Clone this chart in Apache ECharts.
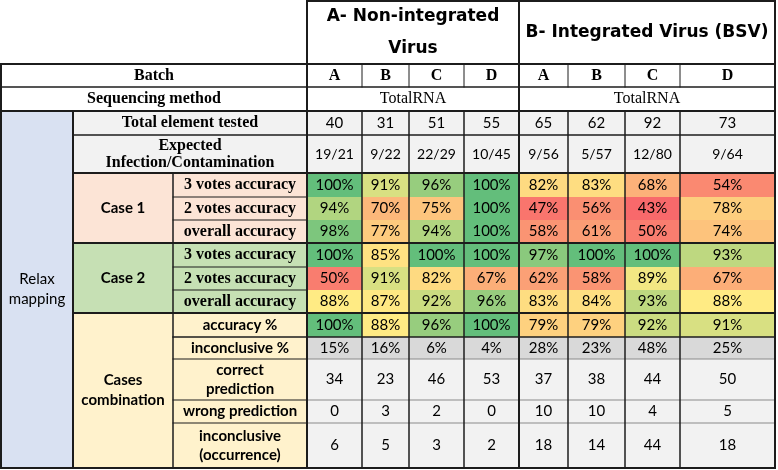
<!DOCTYPE html>
<html><head><meta charset="utf-8">
<script src="https://cdn.jsdelivr.net/npm/echarts@6/dist/echarts.min.js"></script>
<style>html,body{margin:0;padding:0;background:#fff}#c{width:778px;height:470px}</style>
</head><body><div id="c"></div><script>
// ---------------- DATA ----------------
const groupTitles = ['A- Non-integrated\nVirus', 'B- Integrated Virus (BSV)'];
const batches = ['A', 'B', 'C', 'D', 'A', 'B', 'C', 'D'];
const seqMethods = ['TotalRNA', 'TotalRNA'];
const sideLabel = 'Relax\nmapping';
const totalTested = [40, 31, 51, 55, 65, 62, 92, 73];
const expectedInfection = ['19/21', '9/22', '22/29', '10/45', '9/56', '5/57', '12/80', '9/64'];
const caseLabels = ['Case 1', 'Case 2', 'Cases\ncombination'];
const voteMetrics = ['3 votes accuracy', '2 votes accuracy', 'overall accuracy'];
const case1_3votes = [100, 91, 96, 100, 82, 83, 68, 54];
const case1_2votes = [94, 70, 75, 100, 47, 56, 43, 78];
const case1_overall = [98, 77, 94, 100, 58, 61, 50, 74];
const case2_3votes = [100, 85, 100, 100, 97, 100, 100, 93];
const case2_2votes = [50, 91, 82, 67, 62, 58, 89, 67];
const case2_overall = [88, 87, 92, 96, 83, 84, 93, 88];
const combMetrics = ['accuracy %', 'inconclusive %', 'correct\nprediction', 'wrong prediction', 'inconclusive\n(occurrence)'];
const combAccuracy = [100, 88, 96, 100, 79, 79, 92, 91];
const combInconclusivePct = [15, 16, 6, 4, 28, 23, 48, 25];
const correctPrediction = [34, 23, 46, 53, 37, 38, 44, 50];
const wrongPrediction = [0, 3, 2, 0, 10, 10, 4, 5];
const inconclusiveOccurrence = [6, 5, 3, 2, 18, 14, 44, 18];

// ---------------- LAYOUT ----------------
const colEdges = [1, 73, 173, 307, 362, 409, 464, 519, 568, 625, 680, 775];
const rowEdges = [1, 64, 87, 111, 135, 173, 197, 220, 243, 267, 290, 313, 337, 359, 400, 423, 468];
const F_SERIF = '"Liberation Serif", "Times New Roman", serif';
const F_SANS = 'Lato, "Open Sans", sans-serif';
const F_HEAD = '"DejaVu Sans", Verdana, sans-serif';
const C_SIDE = '#D9E1F2', C_CASE1 = '#FCE4D6', C_CASE2 = '#C6E0B4', C_COMB = '#FFF2CC', C_GRAY = '#F2F2F2', C_GRAY2 = '#D9D9D9';

// Excel-like 3 colour scale (min red, median yellow, max green)
const heatVals = [].concat(case1_3votes, case1_2votes, case1_overall, case2_3votes, case2_2votes, case2_overall, combAccuracy).sort((a, b) => a - b);
const hMin = heatVals[0], hMax = heatVals[heatVals.length - 1];
const hMid = (heatVals[heatVals.length / 2 - 1] + heatVals[heatVals.length / 2]) / 2;
function mix(a, b, t) {
  const r = Math.round(a[0] + (b[0] - a[0]) * t), g = Math.round(a[1] + (b[1] - a[1]) * t), bl = Math.round(a[2] + (b[2] - a[2]) * t);
  return 'rgb(' + r + ',' + g + ',' + bl + ')';
}
function heat(v) {
  const R = [248, 105, 107], Y = [255, 235, 132], G = [99, 190, 123];
  if (v <= hMid) return mix(R, Y, (v - hMin) / (hMid - hMin));
  return mix(Y, G, (v - hMid) / (hMax - hMid));
}

// ---------------- CELLS ----------------
const cells = [];
function add(c0, r0, c1, r1, text, opt) { cells.push(Object.assign({ c0, r0, c1, r1, text: String(text) }, opt || {})); }
const serifB = { family: F_SERIF, weight: 'bold', size: 16 };
const sansB = { family: F_SANS, weight: 'bold', size: 15 };
const sansN = { family: F_SANS, weight: 'normal', size: 15 };
const sansS = { family: F_SANS, weight: 'normal', size: 14 };

add(3, 0, 7, 1, groupTitles[0], { family: F_HEAD, weight: 'bold', size: 17, lh: 32 });
add(7, 0, 11, 1, groupTitles[1], { family: F_HEAD, weight: 'bold', size: 17, lh: 32 });
add(0, 1, 3, 2, 'Batch', serifB);
batches.forEach((b, i) => add(3 + i, 1, 4 + i, 2, b, serifB));
add(0, 2, 3, 3, 'Sequencing method', serifB);
add(3, 2, 7, 3, seqMethods[0], { family: F_SERIF, weight: 'normal', size: 16 });
add(7, 2, 11, 3, seqMethods[1], { family: F_SERIF, weight: 'normal', size: 16 });
add(0, 3, 1, 16, sideLabel, Object.assign({ fill: C_SIDE, lh: 20 }, sansN, { size: 15 }));
add(1, 3, 3, 4, 'Total element tested', Object.assign({ fill: C_GRAY }, serifB));
totalTested.forEach((v, i) => add(3 + i, 3, 4 + i, 4, v, Object.assign({ fill: C_GRAY }, sansN)));
add(1, 4, 3, 5, 'Expected\nInfection/Contamination', Object.assign({ fill: C_GRAY, lh: 17 }, serifB));
expectedInfection.forEach((v, i) => add(3 + i, 4, 4 + i, 5, v, Object.assign({ fill: C_GRAY }, sansS)));

const case1 = [case1_3votes, case1_2votes, case1_overall];
const case2 = [case2_3votes, case2_2votes, case2_overall];
add(1, 5, 2, 8, caseLabels[0], Object.assign({ fill: C_CASE1 }, sansB));
add(1, 8, 2, 11, caseLabels[1], Object.assign({ fill: C_CASE2 }, sansB));
case1.forEach((arr, k) => {
  add(2, 5 + k, 3, 6 + k, voteMetrics[k], Object.assign({ fill: C_CASE1 }, serifB));
  arr.forEach((v, i) => add(3 + i, 5 + k, 4 + i, 6 + k, v + '%', Object.assign({ fill: heat(v) }, sansN)));
});
case2.forEach((arr, k) => {
  add(2, 8 + k, 3, 9 + k, voteMetrics[k], Object.assign({ fill: C_CASE2 }, serifB));
  arr.forEach((v, i) => add(3 + i, 8 + k, 4 + i, 9 + k, v + '%', Object.assign({ fill: heat(v) }, sansN)));
});
add(1, 11, 2, 16, caseLabels[2], Object.assign({ fill: C_COMB, lh: 20 }, sansB));
combMetrics.forEach((m, k) => add(2, 11 + k, 3, 12 + k, m, Object.assign({ fill: C_COMB, lh: 19 }, sansB)));
combAccuracy.forEach((v, i) => add(3 + i, 11, 4 + i, 12, v + '%', Object.assign({ fill: heat(v) }, sansN)));
combInconclusivePct.forEach((v, i) => add(3 + i, 12, 4 + i, 13, v + '%', Object.assign({ fill: C_GRAY2 }, sansN)));
[correctPrediction, wrongPrediction, inconclusiveOccurrence].forEach((arr, k) =>
  arr.forEach((v, i) => add(3 + i, 13 + k, 4 + i, 14 + k, v, Object.assign({ fill: C_GRAY }, sansN))));

// ---------------- RULES (borders) ----------------
const DARK = '#1c1c1c';
const lines = [];
function hl(r, c0, c1, w, col) { lines.push({ x0: colEdges[c0], y0: rowEdges[r], x1: colEdges[c1], y1: rowEdges[r], w, col: col || DARK }); }
function vl(c, r0, r1, w, col) { lines.push({ x0: colEdges[c], y0: rowEdges[r0], x1: colEdges[c], y1: rowEdges[r1], w, col: col || DARK }); }
hl(0, 3, 11, 2); hl(1, 0, 11, 2); hl(2, 0, 11, 1.5); hl(3, 0, 11, 2);
hl(4, 1, 11, 1.5); hl(5, 1, 11, 2);
[6, 7, 9, 10].forEach(r => hl(r, 2, 3, 1));
hl(8, 1, 11, 2); hl(11, 1, 11, 2); hl(12, 2, 11, 1.5);
[13, 14, 15].forEach(r => { hl(r, 2, 3, 1); hl(r, 3, 11, 1, '#8a8a8a'); });
hl(16, 0, 11, 2);
vl(0, 1, 16, 2); vl(1, 3, 16, 2); vl(2, 5, 16, 1.5);
vl(3, 0, 16, 2); vl(7, 0, 16, 2); vl(11, 0, 16, 2);
[4, 5, 6, 8, 9, 10].forEach(c => { vl(c, 1, 2, 1); vl(c, 3, 16, 1.5); });

// ---------------- CHART ----------------
const chart = echarts.init(document.getElementById('c'), null, { renderer: 'canvas' });
chart.setOption({
  animation: false,
  backgroundColor: '#ffffff',
  grid: { left: 0, right: 0, top: 0, bottom: 0, containLabel: false },
  xAxis: { type: 'value', min: 0, max: 778, show: false },
  yAxis: { type: 'value', min: 0, max: 470, inverse: true, show: false },
  series: [
    {
      type: 'custom', clip: false,
      data: cells.map(c => [colEdges[c.c0], rowEdges[c.r0], colEdges[c.c1], rowEdges[c.r1]]),
      encode: { x: [0, 2], y: [1, 3] },
      renderItem: function (params, api) {
        const c = cells[params.dataIndex];
        const p0 = api.coord([api.value(0), api.value(1)]);
        const p1 = api.coord([api.value(2), api.value(3)]);
        const x = Math.min(p0[0], p1[0]), y = Math.min(p0[1], p1[1]);
        const w = Math.abs(p1[0] - p0[0]), h = Math.abs(p1[1] - p0[1]);
        const children = [];
        if (c.fill) children.push({ type: 'rect', shape: { x, y, width: w, height: h }, style: { fill: c.fill } });
        children.push({
          type: 'text', x: x + w / 2, y: y + h / 2,
          style: { text: c.text, fill: '#000', fontFamily: c.family, fontWeight: c.weight, fontSize: c.size, lineHeight: c.lh || Math.round(c.size * 1.2), align: 'center', verticalAlign: 'middle' }
        });
        return { type: 'group', children };
      }
    },
    {
      type: 'custom', clip: false, z: 5,
      data: lines.map(l => [l.x0, l.y0, l.x1, l.y1]),
      encode: { x: [0, 2], y: [1, 3] },
      renderItem: function (params, api) {
        const l = lines[params.dataIndex];
        const p0 = api.coord([api.value(0), api.value(1)]);
        const p1 = api.coord([api.value(2), api.value(3)]);
        return { type: 'line', shape: { x1: p0[0], y1: p0[1], x2: p1[0], y2: p1[1] }, style: { stroke: l.col, lineWidth: l.w, lineCap: 'square' } };
      }
    }
  ]
});
</script></body></html>
